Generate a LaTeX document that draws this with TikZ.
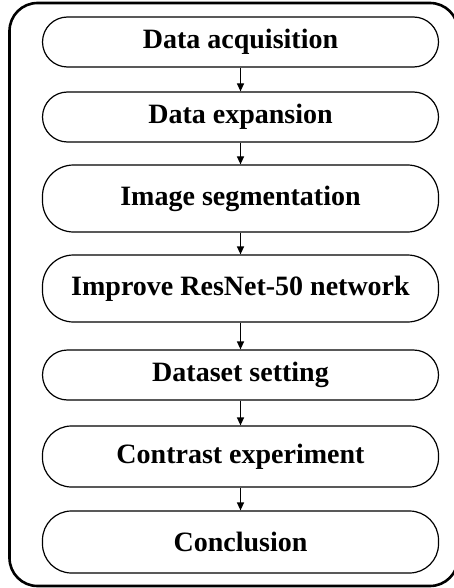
\documentclass[tikz,border=0pt]{standalone}
\usepackage{fontspec}
\setmainfont{Liberation Serif}
\usetikzlibrary{arrows.meta}
\begin{document}
\begin{tikzpicture}[x=1pt,y=1pt,
  stepbox/.style={draw, line width=1.2pt, minimum width=396pt, inner sep=0pt,
    font=\fontsize{28}{30}\selectfont\bfseries},
  flow/.style={draw, line width=1.2pt, -{Triangle[length=8pt,width=7pt]}}]
\useasboundingbox (0,0) rectangle (453,-588);
\draw[line width=2.6pt, rounded corners=28pt] (9.5,-3) rectangle (458,-586);
\node[stepbox, minimum height=50pt, rounded corners=25pt] (s1) at (240.5,-42) {Data acquisition};
\node[stepbox, minimum height=50pt, rounded corners=25pt] (s2) at (240.5,-117) {Data expansion};
\node[stepbox, minimum height=67pt, rounded corners=31pt] (s3) at (240.5,-198.5) {Image segmentation};
\node[stepbox, minimum height=67pt, rounded corners=31pt] (s4) at (240.5,-288.5) {Improve ResNet-50 network};
\node[stepbox, minimum height=50pt, rounded corners=25pt] (s5) at (240.5,-375) {Dataset setting};
\node[stepbox, minimum height=61pt, rounded corners=29pt] (s6) at (240.5,-456.5) {Contrast experiment};
\node[stepbox, minimum height=62pt, rounded corners=29pt] (s7) at (240.5,-542) {Conclusion};
\foreach \a/\b in {s1/s2,s2/s3,s3/s4,s4/s5,s5/s6,s6/s7}
  \draw[flow] (\a) -- (\b);
\end{tikzpicture}
\end{document}
